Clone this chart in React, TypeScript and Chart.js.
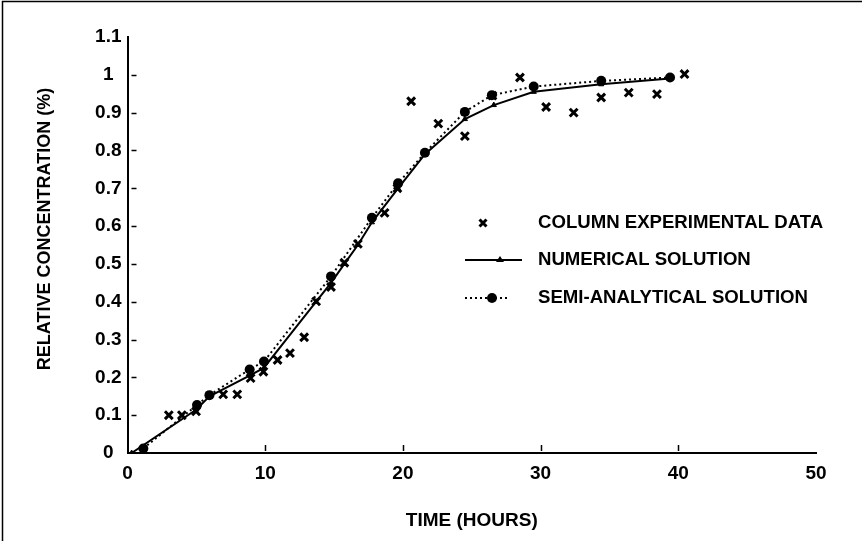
import React, { useEffect, useRef } from "react";
import { Chart, registerables } from "chart.js";

Chart.register(...registerables);

// ---- data ----
const expTime = [3.0, 3.95, 4.98, 6.95, 7.97, 8.94, 9.87, 10.9, 11.8, 12.83, 13.7, 14.78, 15.75, 16.73, 18.67, 19.6, 20.6, 22.57, 24.5, 26.5, 28.5, 30.4, 32.4, 34.4, 36.4, 38.45, 40.45];
const expConc = [0.10, 0.10, 0.11, 0.155, 0.155, 0.198, 0.215, 0.246, 0.264, 0.306, 0.401, 0.439, 0.503, 0.553, 0.635, 0.70, 0.93, 0.871, 0.838, 0.945, 0.993, 0.915, 0.90, 0.94, 0.953, 0.949, 1.002];

const numTime = [0.3, 5.0, 5.95, 8.9, 9.9, 13.7, 14.78, 15.75, 16.73, 17.75, 19.65, 21.6, 24.5, 26.6, 29.5, 34.4, 39.4];
const numConc = [0.0, 0.115, 0.15, 0.205, 0.225, 0.40, 0.45, 0.50, 0.55, 0.61, 0.70, 0.79, 0.883, 0.92, 0.955, 0.975, 0.99];

const semiTime = [1.15, 5.05, 5.95, 8.87, 9.91, 14.78, 17.75, 19.65, 21.6, 24.5, 26.46, 29.5, 34.4, 39.4];
const semiConc = [0.012, 0.127, 0.153, 0.221, 0.242, 0.467, 0.622, 0.713, 0.794, 0.902, 0.946, 0.969, 0.984, 0.993];

const xTickValues = [10, 20, 30, 40];
const yTickValues = [0.1, 0.2, 0.3, 0.4, 0.5, 0.6, 0.7, 0.8, 0.9, 1.0];

const legendLabels = ["COLUMN EXPERIMENTAL DATA", "NUMERICAL SOLUTION", "SEMI-ANALYTICAL SOLUTION"];
const xTitle = "TIME (HOURS)";
const yTitle = "RELATIVE CONCENTRATION (%)";

// ---- layout / style ----
const W = 862;
const H = 541;
const FONT = '"Liberation Sans", Arial, Helvetica, sans-serif';
const PAD = { top: 37, right: 46, bottom: 9, left: 35 };
const AREA_LEFT = 127.5;
const AREA_BOTTOM = 453;
const Y_TITLE_POS = { x: 45, y: 229 };
const LEGEND = {
  markerX: 483,
  lineStart: 465,
  lineEnd: 522,
  dotEnd: 507,
  triX: 500,
  circX: 492,
  textX: 538,
  rows: [223, 260, 298],
};

const toPts = (xs: number[], ys: number[]) => xs.map((x, i) => ({ x, y: ys[i] }));

const decorPlugin = {
  id: "decor",
  afterDraw(chart: any) {
    const ctx = chart.ctx as CanvasRenderingContext2D;
    const xs = chart.scales.x;
    const ys = chart.scales.y;
    const x0 = xs.getPixelForValue(0);
    const y0 = ys.getPixelForValue(0);
    ctx.save();
    ctx.strokeStyle = "#000";
    ctx.fillStyle = "#000";
    ctx.lineWidth = 1.5;
    // inward tick marks
    ctx.beginPath();
    yTickValues.forEach((v) => {
      const py = Math.round(ys.getPixelForValue(v)) + 0.5;
      ctx.moveTo(x0 + 4, py);
      ctx.lineTo(x0 + 9, py);
    });
    xTickValues.forEach((v) => {
      const px = Math.round(xs.getPixelForValue(v)) + 0.5;
      ctx.moveTo(px, y0 - 2);
      ctx.lineTo(px, y0 - 8);
    });
    ctx.stroke();

    // page frame (top & left)
    ctx.beginPath();
    ctx.moveTo(2.5, H);
    ctx.lineTo(2.5, 1.5);
    ctx.lineTo(W, 1.5);
    ctx.stroke();

    // y axis title
    ctx.save();
    ctx.translate(Y_TITLE_POS.x, Y_TITLE_POS.y);
    ctx.rotate(-Math.PI / 2);
    ctx.font = `bold 18px ${FONT}`;
    ctx.textAlign = "center";
    ctx.textBaseline = "middle";
    ctx.fillText(yTitle, 0, 0);
    ctx.restore();

    // legend
    const r = LEGEND.rows;
    ctx.font = `bold 18.6px ${FONT}`;
    ctx.textBaseline = "middle";
    ctx.textAlign = "left";
    legendLabels.forEach((t, i) => ctx.fillText(t, LEGEND.textX, r[i]));

    // row 1 marker: X
    ctx.lineWidth = 3;
    ctx.beginPath();
    const s = 3.5;
    ctx.moveTo(LEGEND.markerX - s, r[0] - s);
    ctx.lineTo(LEGEND.markerX + s, r[0] + s);
    ctx.moveTo(LEGEND.markerX + s, r[0] - s);
    ctx.lineTo(LEGEND.markerX - s, r[0] + s);
    ctx.stroke();

    // row 2: solid line + triangle
    ctx.lineWidth = 2;
    ctx.beginPath();
    ctx.moveTo(LEGEND.lineStart, r[1]);
    ctx.lineTo(LEGEND.lineEnd, r[1]);
    ctx.stroke();
    ctx.beginPath();
    ctx.moveTo(LEGEND.triX, r[1] - 4);
    ctx.lineTo(LEGEND.triX + 4, r[1] + 2);
    ctx.lineTo(LEGEND.triX - 4, r[1] + 2);
    ctx.closePath();
    ctx.fill();

    // row 3: dotted line + circle
    ctx.setLineDash([2, 3]);
    ctx.beginPath();
    ctx.moveTo(LEGEND.lineStart, r[2]);
    ctx.lineTo(LEGEND.dotEnd, r[2]);
    ctx.stroke();
    ctx.setLineDash([]);
    ctx.beginPath();
    ctx.arc(LEGEND.circX, r[2], 5, 0, Math.PI * 2);
    ctx.fill();
    ctx.restore();
  },
};

export default function App() {
  const ref = useRef<HTMLCanvasElement | null>(null);
  useEffect(() => {
    if (!ref.current) return;
    const chart = new Chart(ref.current, {
      type: "scatter",
      data: {
        datasets: [
          {
            label: legendLabels[0],
            data: toPts(expTime, expConc),
            showLine: false,
            pointStyle: "crossRot",
            pointRadius: 5.5,
            borderColor: "#000",
            backgroundColor: "#000",
            pointBorderWidth: 3,
          },
          {
            label: legendLabels[1],
            data: toPts(numTime, numConc),
            showLine: true,
            borderColor: "#000",
            borderWidth: 2,
            pointStyle: "triangle",
            pointRadius: 3,
            backgroundColor: "#000",
            pointBorderWidth: 1,
            tension: 0,
          },
          {
            label: legendLabels[2],
            data: toPts(semiTime, semiConc),
            showLine: true,
            borderColor: "#000",
            borderWidth: 2,
            borderDash: [2, 3],
            pointStyle: "circle",
            pointRadius: 5,
            backgroundColor: "#000",
            pointBorderWidth: 0,
            tension: 0,
          },
        ],
      },
      options: {
        responsive: false,
        animation: false,
        events: [],
        layout: { padding: PAD },
        plugins: {
          legend: { display: false },
          tooltip: { enabled: false },
        },
        scales: {
          x: {
            type: "linear",
            min: 0,
            max: 50,
            grid: { display: false, drawTicks: false },
            border: { display: true, color: "#000", width: 2 },
            ticks: {
              stepSize: 10,
              color: "#000",
              padding: 9,
              font: { family: FONT, size: 19, weight: "bold" },
            },
            title: {
              display: true,
              text: xTitle,
              color: "#000",
              padding: 0,
              font: { family: FONT, size: 19, weight: "bold" },
            },
            afterFit: (scale: any) => {
              scale.height = H - AREA_BOTTOM - PAD.bottom;
            },
          },
          y: {
            type: "linear",
            min: 0,
            max: 1.1,
            grid: { display: false, drawTicks: false },
            border: { display: true, color: "#000", width: 2 },
            ticks: {
              stepSize: 0.1,
              color: "#000",
              padding: 6,
              crossAlign: "center",
              font: { family: FONT, size: 19, weight: "bold" },
              callback: (v: any) => String(Number(Number(v).toFixed(1))),
            },
            title: { display: false },
            afterFit: (scale: any) => {
              scale.width = AREA_LEFT - PAD.left;
            },
          },
        },
      },
      plugins: [decorPlugin],
    } as any);
    return () => chart.destroy();
  }, []);
  return (
    <div style={{ position: "fixed", left: 0, top: 0, width: W, height: H, background: "#fff" }}>
      <canvas ref={ref} width={W} height={H} style={{ width: W, height: H, display: "block" }} />
    </div>
  );
}
